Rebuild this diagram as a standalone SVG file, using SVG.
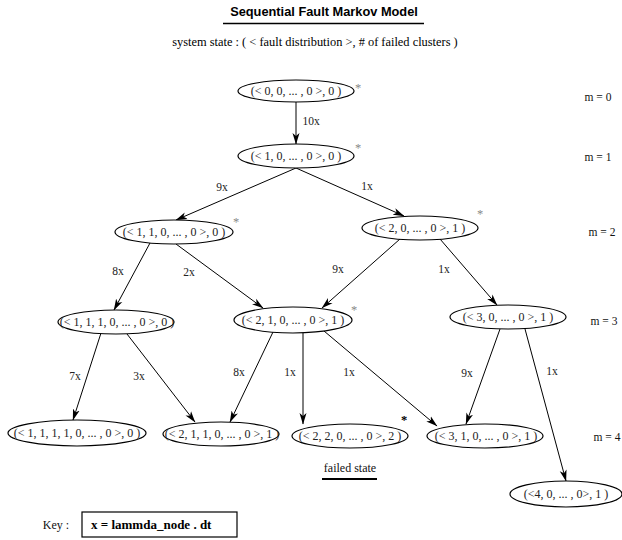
<svg xmlns="http://www.w3.org/2000/svg" width="622" height="540" viewBox="0 0 622 540">
<defs>
<marker id="arr" viewBox="0 0 12 8" refX="11" refY="4" markerWidth="12" markerHeight="8" markerUnits="userSpaceOnUse" orient="auto">
<path d="M0,0.5 L11.5,4 L0,7.5 L3,4 Z" fill="#000"/>
</marker>
<style>
.n ellipse{fill:#fff;stroke:#000;stroke-width:1.2}
.n text{font-family:"Liberation Serif","Times New Roman",serif;font-size:12px;text-anchor:middle;fill:#222}
.e line{stroke:#000;stroke-width:1;marker-end:url(#arr)}
.lbl{font-family:"Liberation Serif","Times New Roman",serif;font-size:11.5px;text-anchor:middle;fill:#222}
.star{font-family:"Liberation Serif","Times New Roman",serif;font-size:12.5px;fill:#888;text-anchor:middle}
.m{font-family:"Liberation Serif","Times New Roman",serif;font-size:11.5px;text-anchor:middle;fill:#111}
.serif{font-family:"Liberation Serif","Times New Roman",serif}
</style>
</defs>
<rect width="622" height="540" fill="#fff"/>
<text x="324" y="16" font-family="'Liberation Sans',Arial,sans-serif" font-weight="bold" font-size="12.8" text-anchor="middle">Sequential Fault Markov Model</text>
<line x1="223" y1="23.5" x2="424" y2="23.5" stroke="#000" stroke-width="1.3"/>
<text class="serif" x="315" y="46" font-size="12.4" text-anchor="middle">system state : ( &lt; fault distribution &gt;, # of failed clusters )</text>

<g id="connectors" class="e">
<line x1="296" y1="102" x2="296" y2="144"/>
<line x1="296" y1="168" x2="176" y2="220"/>
<line x1="296" y1="168" x2="404" y2="216"/>
<line x1="150" y1="243" x2="114" y2="310"/>
<line x1="176" y1="244" x2="263" y2="308"/>
<line x1="400" y1="239" x2="322" y2="308"/>
<line x1="440" y1="239" x2="497" y2="305"/>
<line x1="101" y1="333" x2="73" y2="420"/>
<line x1="127" y1="334" x2="195" y2="422"/>
<line x1="273" y1="332" x2="230" y2="422"/>
<line x1="303" y1="333" x2="303" y2="424"/>
<line x1="324" y1="331" x2="437" y2="426"/>
<line x1="500" y1="329" x2="466" y2="424"/>
<line x1="525" y1="329" x2="566" y2="481"/>
</g>

<g id="edge-labels" class="lbl">
<text x="311" y="125">10x</text>
<text x="222" y="191">9x</text>
<text x="367" y="190">1x</text>
<text x="118" y="275">8x</text>
<text x="189" y="276">2x</text>
<text x="338" y="273">9x</text>
<text x="444" y="273">1x</text>
<text x="75" y="380">7x</text>
<text x="139" y="380">3x</text>
<text x="239" y="376">8x</text>
<text x="290" y="376">1x</text>
<text x="349" y="376">1x</text>
<text x="467" y="377">9x</text>
<text x="552" y="375">1x</text>
</g>

<g id="n0" class="n"><ellipse cx="296" cy="91" rx="58" ry="11"/><text x="296" y="95">(&lt; 0, 0, ... , 0 &gt;, 0 )</text></g>
<g id="n1" class="n"><ellipse cx="296" cy="156" rx="58" ry="12"/><text x="296" y="160">(&lt; 1, 0, ... , 0 &gt;, 0 )</text></g>
<g id="n2l" class="n"><ellipse cx="174" cy="232" rx="59" ry="12"/><text x="174" y="236">(&lt; 1, 1, 0, ... , 0 &gt;, 0 )</text></g>
<g id="n2r" class="n"><ellipse cx="420" cy="228" rx="58" ry="12"/><text x="420" y="232">(&lt; 2, 0, ... , 0 &gt;, 1 )</text></g>
<g id="n3l" class="n"><ellipse cx="116" cy="322" rx="58" ry="12"/><text x="117" y="326">(&lt; 1, 1, 1, 0, ... , 0 &gt;, 0 )</text></g>
<g id="n3m" class="n"><ellipse cx="293" cy="320" rx="59" ry="13"/><text x="293" y="324">(&lt; 2, 1, 0, ... , 0 &gt;, 1 )</text></g>
<g id="n3r" class="n"><ellipse cx="508" cy="317" rx="58" ry="12"/><text x="508" y="321">(&lt; 3, 0, ... , 0 &gt;, 1 )</text></g>
<g id="n4a" class="n"><ellipse cx="77" cy="433" rx="69" ry="13"/><text x="77" y="437">(&lt; 1, 1, 1, 1, 0, ... , 0 &gt;, 0 )</text></g>
<g id="n4b" class="n"><ellipse cx="221" cy="434" rx="58" ry="12"/><text x="222" y="438">(&lt; 2, 1, 1, 0, ... , 0 &gt;, 1 )</text></g>
<g id="n4c" class="n"><ellipse cx="350" cy="436" rx="58" ry="12"/><text x="350" y="440">(&lt; 2, 2, 0, ... , 0 &gt;, 2 )</text></g>
<g id="n4d" class="n"><ellipse cx="485" cy="436" rx="58" ry="12"/><text x="486" y="440">(&lt; 3, 1, 0, ... , 0 &gt;, 1 )</text></g>
<g id="n5" class="n"><ellipse cx="566" cy="494" rx="56" ry="13"/><text x="566" y="498">(&lt;4, 0, ... , 0&gt;, 1 )</text></g>

<g id="stars">
<text class="star" x="358" y="92">*</text>
<text class="star" x="358" y="152">*</text>
<text class="star" x="236" y="226">*</text>
<text class="star" x="480" y="218">*</text>
<text class="star" x="354" y="314">*</text>
<text class="star" x="404" y="424" style="fill:#000;font-weight:bold">*</text>
</g>

<g id="levels">
<text class="m" x="598" y="101">m = 0</text>
<text class="m" x="598" y="161">m = 1</text>
<text class="m" x="602" y="236">m = 2</text>
<text class="m" x="604" y="325">m = 3</text>
<text class="m" x="607" y="441">m = 4</text>
</g>

<g id="failed-state">
<text class="serif" x="350" y="472" font-size="12" text-anchor="middle" fill="#111">failed state</text>
<line x1="322" y1="479" x2="377" y2="479" stroke="#000" stroke-width="2"/>
</g>

<g id="key">
<text class="serif" x="56" y="529" font-size="12" text-anchor="middle" fill="#111">Key :</text>
<rect x="82" y="512" width="155" height="25" fill="#fff" stroke="#000" stroke-width="1.2"/>
<text class="serif" x="91" y="529" font-size="13" font-weight="bold" fill="#000">x = lammda_node . dt</text>
</g>
</svg>
